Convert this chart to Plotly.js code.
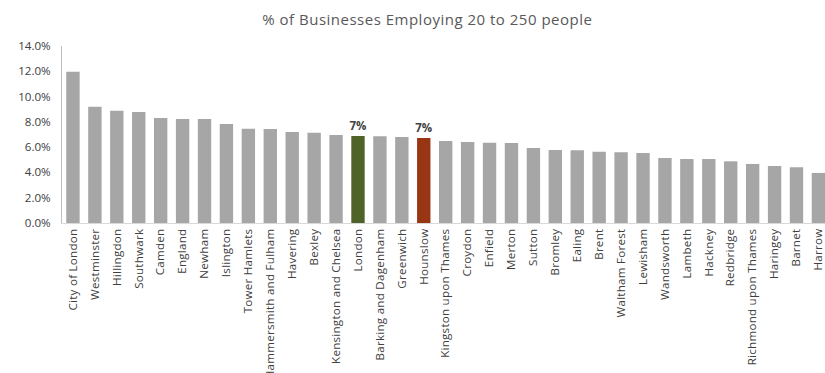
<!DOCTYPE html>
<html>
<head>
<meta charset="utf-8">
<script src="https://cdn.plot.ly/plotly-3.0.1.min.js"></script>
<style>
html,body{margin:0;padding:0;background:#fff;}
#chart{width:825px;height:373px;}
.gtitle{letter-spacing:0.5px;}
.xtick text{letter-spacing:0.25px;}
</style>
</head>
<body>
<div id="chart"></div>
<script>
const categories = ["City of London","Westminster","Hillingdon","Southwark","Camden","England","Newham","Islington","Tower Hamlets","Hammersmith and Fulham","Havering","Bexley","Kensington and Chelsea","London","Barking and Dagenham","Greenwich","Hounslow","Kingston upon Thames","Croydon","Enfield","Merton","Sutton","Bromley","Ealing","Brent","Waltham Forest","Lewisham","Wandsworth","Lambeth","Hackney","Redbridge","Richmond upon Thames","Haringey","Barnet","Harrow"];
const values = [0.1197,0.0920,0.0888,0.0878,0.0831,0.0823,0.0823,0.0783,0.0746,0.0744,0.0720,0.0714,0.0696,0.0688,0.0686,0.0680,0.0672,0.0649,0.0641,0.0635,0.0633,0.0593,0.0578,0.0576,0.0564,0.0559,0.0554,0.0514,0.0506,0.0506,0.0488,0.0467,0.0451,0.0441,0.0396];
const highlight = {"London":"#4f6228","Hounslow":"#983512"};
const labels = categories.map(c => highlight[c] ? "7%" : "");
const yTicks = [0,0.02,0.04,0.06,0.08,0.10,0.12,0.14];

const colors = categories.map(c => highlight[c] || "#a6a6a6");
const trace = {
  type: "bar",
  x: categories,
  y: values,
  marker: {color: colors, line: {width: 0}},
  text: labels,
  textposition: "outside",
  constraintext: "none",
  texttemplate: "<b>%{text}</b>",
  textfont: {family: "Open Sans, sans-serif", size: 11.5, color: "#404040"},
  cliponaxis: false,
  hoverinfo: "x+y"
};
const layout = {
  width: 825, height: 373,
  margin: {l: 62, r: 0, t: 46, b: 150},
  paper_bgcolor: "#fff", plot_bgcolor: "#fff",
  title: {text: "% of Businesses Employing 20 to 250 people", x: 0.518, xanchor: "center", xref: "container",
          y: 0.948, yanchor: "middle", yref: "container",
          font: {family: "Open Sans, sans-serif", size: 15, color: "#595959"}},
  bargap: 0.39,
  showlegend: false,
  xaxis: {
    type: "category", range: [-0.5, 34.3], tickangle: -90, showgrid: false, zeroline: false,
    showline: true, linecolor: "#d9d9d9", linewidth: 1, ticks: "",
    tickfont: {family: "Open Sans, sans-serif", size: 11.6, color: "#404040"},
    automargin: false
  },
  yaxis: {
    range: [0, 0.14], tickvals: yTicks, tickformat: ".1%",
    showgrid: false, zeroline: false, showline: true, linecolor: "#bfbfbf", linewidth: 1, ticks: "",
    ticklabelstandoff: 8,
    tickfont: {family: "Open Sans, sans-serif", size: 11.6, color: "#404040"},
    automargin: false
  }
};
Plotly.newPlot("chart", [trace], layout, {staticPlot: true, displayModeBar: false});
</script>
</body>
</html>
